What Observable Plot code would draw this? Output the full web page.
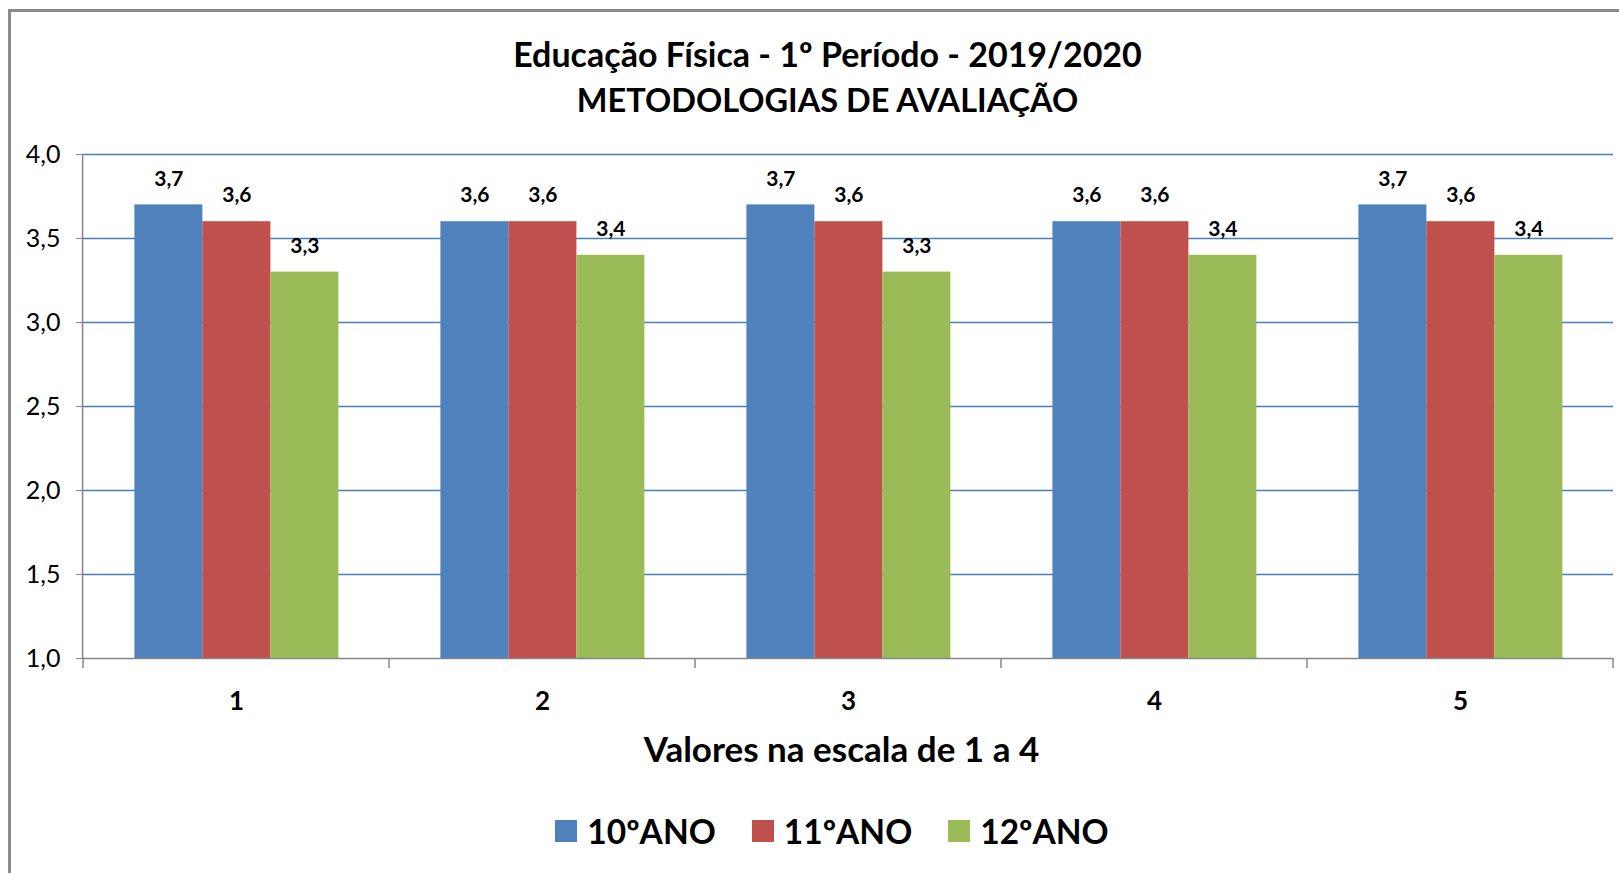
<!DOCTYPE html>
<html>
<head>
<meta charset="utf-8">
<script src="https://cdn.jsdelivr.net/npm/d3@7"></script>
<script src="https://cdn.jsdelivr.net/npm/@observablehq/plot@0.6"></script>
<style>
  body { margin: 0; background: #fff; font-family: Lato, "Open Sans", sans-serif; color: #000; }
  #wrap { position: relative; width: 1619px; height: 873px; overflow: hidden; background: #fff; }
  #border { position: absolute; left: 8px; top: 9px; width: 1700px; height: 1000px;
            border-left: 3px solid #8a8a8a; border-top: 3px solid #8a8a8a; box-sizing: border-box; pointer-events: none; }
  #title { position: absolute; left: 0; top: 0; width: 1655px; height: 130px; text-align: center; font-weight: bold; }
  #title .l1 { position: absolute; left: 0; right: 0; top: 53px; transform: translateY(-50%); font-size: 34px; white-space: nowrap; }
  #title .l2 { position: absolute; left: 0; right: 0; top: 99px; transform: translateY(-50%); font-size: 32.5px; white-space: nowrap; }
  #chart { position: absolute; left: 0; top: 130px; }
  #xtitle { position: absolute; left: 0; top: 720px; width: 1683px; height: 56px; text-align: center;
            font-weight: bold; font-size: 35px; line-height: 56px; }
  #legend { position: absolute; left: 0; top: 782px; width: 1664px; height: 97px; display: flex;
            justify-content: center; align-items: center; gap: 36px; font-weight: bold; font-size: 33.5px; }
  #legend .item { display: flex; align-items: center; gap: 10px; }
  #legend .sw { width: 22px; height: 22px; display: inline-block; }
</style>
</head>
<body>
<div id="wrap">
  <div id="title"></div>
  <div id="chart"></div>
  <div id="xtitle"></div>
  <div id="legend"></div>
  <div id="border"></div>
</div>
<script>
const titleLines = ["Educação Física - 1º Período - 2019/2020", "METODOLOGIAS DE AVALIAÇÃO"];
const xTitle = "Valores na escala de 1 a 4";
const categories = ["1", "2", "3", "4", "5"];
const series = ["10ºANO", "11ºANO", "12ºANO"];
const values10 = [3.7, 3.6, 3.7, 3.6, 3.7];
const values11 = [3.6, 3.6, 3.6, 3.6, 3.6];
const values12 = [3.3, 3.4, 3.3, 3.4, 3.4];
const colors = ["#4F81BD", "#C0504D", "#9BBB59"];
const yTicks = [1.0, 1.5, 2.0, 2.5, 3.0, 3.5, 4.0];

const seriesValues = [values10, values11, values12];
const data = categories.flatMap((c, i) =>
  series.map((s, j) => ({ cat: c, serie: s, value: seriesValues[j][i] })));

const fmt = d => d.toFixed(1).replace(".", ",");

document.querySelector("#title").innerHTML =
  `<div class="l1">${titleLines[0]}</div><div class="l2">${titleLines[1]}</div>`;
document.querySelector("#xtitle").textContent = xTitle;
document.querySelector("#legend").innerHTML = series.map((s, i) =>
  `<span class="item"><span class="sw" style="background:${colors[i]}"></span><span>${s}</span></span>`).join("");

const W = 1619, H = 590;
const plot = Plot.plot({
  width: W, height: H,
  marginLeft: 82.6, marginRight: 6.3, marginTop: 24, marginBottom: 62,
  style: { fontFamily: "Lato, 'Open Sans', sans-serif", background: "transparent", overflow: "visible", color: "#000" },
  fx: { domain: categories, padding: 0, label: null, axis: null },
  x: { domain: series, paddingInner: 0, paddingOuter: 0.75, axis: null },
  y: { domain: [1, 4], axis: null },
  color: { domain: series, range: colors },
  marks: [
    Plot.ruleY(yTicks.slice(1), { stroke: "#4A7EBB", strokeWidth: 1.5 }),
    Plot.barY(data, { fx: "cat", x: "serie", y1: 1, y2: "value", fill: "serie" }),
    Plot.ruleY([1], { stroke: "#868686", strokeWidth: 1.5 }),
    Plot.text(data, { fx: "cat", x: "serie", y: "value", text: d => fmt(d.value), dy: -26,
                      fontWeight: "bold", fontSize: 21, fill: "#000" }),
    Plot.axisY({ ticks: yTicks, tickFormat: fmt, tickSize: 7, tickPadding: 16, fontSize: 25,
                 stroke: "#868686", fill: "#000", label: null }),
    Plot.axisFx({ anchor: "bottom", tickSize: 0, tickPadding: 33, fontSize: 26, fontWeight: "bold", fill: "#000", label: null })
  ]
});
document.querySelector("#chart").appendChild(plot);

// y-axis line and category boundary ticks, from the library's scales
const fx = plot.scale("fx"), y = plot.scale("y");
const svg = d3.select(plot);
const x0 = fx.range[0];
svg.append("line").attr("x1", x0).attr("x2", x0)
  .attr("y1", y.apply(4)).attr("y2", y.apply(1))
  .attr("stroke", "#868686").attr("stroke-width", 1.5);
const bounds = categories.map(c => fx.apply(c)).concat([fx.apply(categories[categories.length - 1]) + fx.bandwidth]);
svg.append("g").selectAll("line").data(bounds).join("line")
  .attr("x1", d => d).attr("x2", d => d)
  .attr("y1", y.apply(1)).attr("y2", y.apply(1) + 10)
  .attr("stroke", "#868686").attr("stroke-width", 1.5);
</script>
</body>
</html>
